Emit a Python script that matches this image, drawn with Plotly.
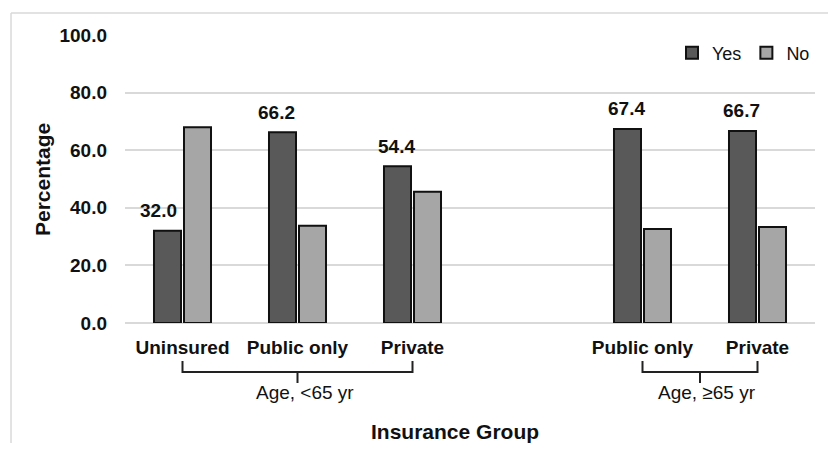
import plotly.graph_objects as go

# ---- data ----
positions = [0, 1, 2, 4, 5]
tick_labels = ["Uninsured", "Public only", "Private", "Public only", "Private"]
yes_values = [32.0, 66.2, 54.4, 67.4, 66.7]
no_values = [68.0, 33.8, 45.6, 32.6, 33.3]
group_labels = ["Age, <65 yr", "Age, \u226565 yr"]
group_starts = [0, 4]
group_ends = [2, 5]

# style: horizontal pixel offsets of the value labels
label_xshifts = [-24, -21, -16, -16, -16]

FONT = "Arial, Liberation Sans, sans-serif"
YES_COLOR = "#595959"
NO_COLOR = "#a6a6a6"
TXT = "#111111"

fig = go.Figure()
fig.add_trace(go.Bar(
    x=positions, y=yes_values, name="Yes",
    marker=dict(color=YES_COLOR, line=dict(color="#111111", width=2)),
))
fig.add_trace(go.Bar(
    x=positions, y=no_values, name="No",
    marker=dict(color=NO_COLOR, line=dict(color="#111111", width=2)),
))

annotations = []
# value labels on Yes bars
for xp, v, xs in zip(positions, yes_values, label_xshifts):
    annotations.append(dict(
        x=xp, y=v, xref="x", yref="y", text=f"<b>{v:.1f}</b>",
        showarrow=False, xshift=xs, yshift=20, xanchor="center", yanchor="middle",
        font=dict(family=FONT, size=19, color=TXT),
    ))

shapes = []
y_top, y_line, y_tick = -0.132, -0.170, -0.208
for lab, a, b in zip(group_labels, group_starts, group_ends):
    m = (a + b) / 2
    path = (f"M {a},{y_top} L {a},{y_line} L {b},{y_line} L {b},{y_top} "
            f"M {m},{y_line} L {m},{y_tick}")
    shapes.append(dict(type="path", path=path, xref="x", yref="paper",
                       line=dict(color="#222222", width=2)))
    annotations.append(dict(
        x=m, y=-0.243, xref="x", yref="paper", text=lab, showarrow=False,
        xshift=7, xanchor="center", yanchor="middle",
        font=dict(family=FONT, size=19, color=TXT),
    ))

# axis titles
annotations.append(dict(
    x=-0.1203, y=0.5, xref="paper", yref="paper", text="<b>Percentage</b>",
    textangle=-90, showarrow=False, xanchor="center", yanchor="middle",
    font=dict(family=FONT, size=21, color=TXT),
))
annotations.append(dict(
    x=0.478, y=-0.378, xref="paper", yref="paper", text="<b>Insurance Group</b>",
    showarrow=False, xanchor="center", yanchor="middle",
    font=dict(family=FONT, size=21, color=TXT),
))

# partial outer frame (top and left)
shapes.append(dict(type="line", xref="paper", yref="paper", x0=-0.1652, x1=1.02,
                   y0=1.0764, y1=1.0764, line=dict(color="#d9d9d9", width=1.5)))
shapes.append(dict(type="line", xref="paper", yref="paper", x0=-0.1652, x1=-0.1652,
                   y0=1.0764, y1=-0.4167, line=dict(color="#d9d9d9", width=1.5)))

fig.update_layout(
    width=828, height=455,
    margin=dict(l=125, r=13, t=35, b=132),
    paper_bgcolor="white", plot_bgcolor="white",
    barmode="group", bargap=0.478, bargroupgap=0.1,
    font=dict(family=FONT, size=18, color=TXT),
    showlegend=True,
    legend=dict(orientation="h", x=1.0, xanchor="right", y=0.9375, yanchor="middle",
                font=dict(family=FONT, size=18, color=TXT),
                itemwidth=30, bgcolor="rgba(0,0,0,0)"),
    annotations=annotations,
    shapes=shapes,
)
fig.update_xaxes(
    range=[-0.5, 5.5], tickmode="array", tickvals=positions,
    ticktext=[f"<b>{t}</b>" for t in tick_labels],
    showgrid=False, zeroline=False, showline=False, ticks="",
    tickfont=dict(family=FONT, size=19, color=TXT),
    ticklabelstandoff=11,
)
fig.update_yaxes(
    range=[0, 100], tickvals=[0, 20, 40, 60, 80, 100],
    ticktext=[f"<b>{v:.1f}</b>" for v in [0, 20, 40, 60, 80, 100]],
    showgrid=True, gridcolor="#d9d9d9", gridwidth=1.5,
    zeroline=True, zerolinecolor="#d9d9d9", zerolinewidth=1.5,
    showline=False, ticks="",
    tickfont=dict(family=FONT, size=19, color=TXT),
    ticklabelstandoff=17,
)

fig.write_html("out.html")
